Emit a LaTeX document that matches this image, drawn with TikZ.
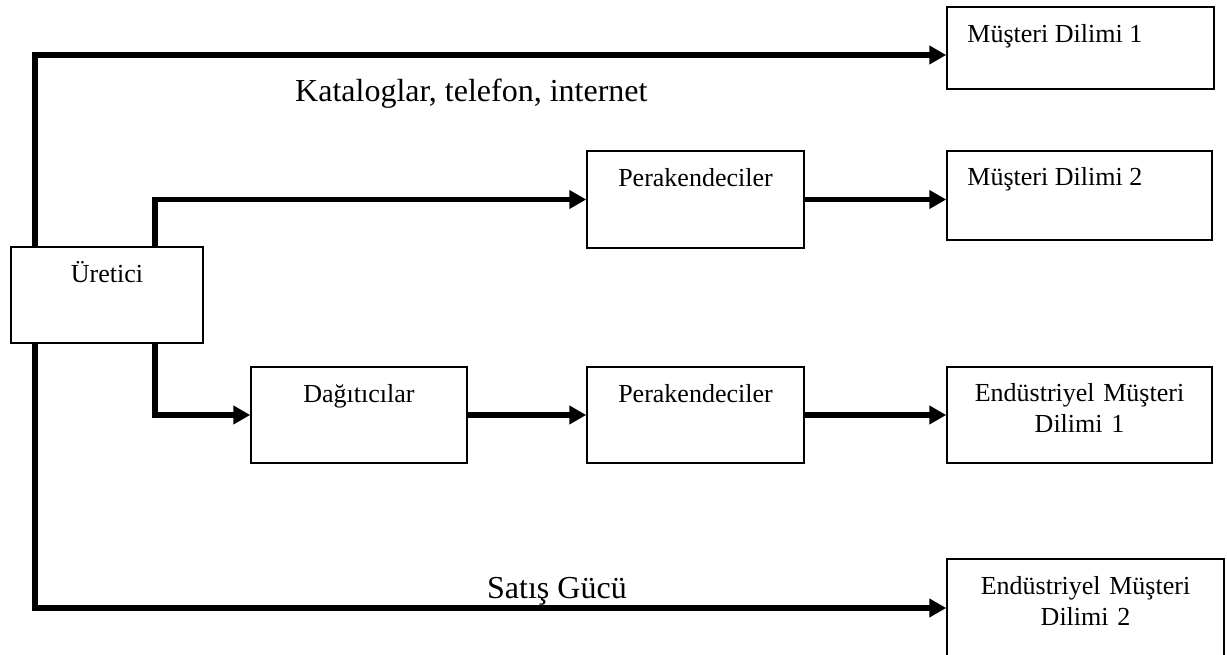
\documentclass[tikz,border=0pt]{standalone}
\usepackage{fontspec}
\setmainfont{Liberation Serif}
\usetikzlibrary{arrows.meta,calc}

\tikzset{
  box/.style={draw, line width=1.5pt, rectangle, inner sep=0pt},
  boxtext/.style={font=\fontsize{26}{31}\selectfont, inner sep=0pt, anchor=base},
  bigtext/.style={font=\fontsize{32}{38}\selectfont, inner sep=0pt, anchor=base west},
  flow/.style={line width=5.5pt, -{Triangle[length=17pt,width=18pt]}},
  trunk/.style={line width=5.5pt}
}

\begin{document}
\begin{tikzpicture}[x=1pt, y=-1pt]
  \useasboundingbox (0,0) rectangle (1227,655);

  % boxes
  \node[box, minimum width=192pt, minimum height=96pt] (ure) at (107,295) {};
  \node[box, minimum width=267pt, minimum height=82pt] (m1) at (1080.5,48) {};
  \node[box, minimum width=265pt, minimum height=89pt] (m2) at (1079.5,195.5) {};
  \node[box, minimum width=217pt, minimum height=97pt] (p1) at (695.5,199.5) {};
  \node[box, minimum width=217pt, minimum height=96pt] (p2) at (695.5,415) {};
  \node[box, minimum width=216pt, minimum height=96pt] (dag) at (359,415) {};
  \node[box, minimum width=265pt, minimum height=96pt] (e1) at (1079.5,415) {};
  \node[box, minimum width=277pt, minimum height=98pt] (e2) at (1085.5,608) {};

  % box captions, set near the top of each box
  \node[boxtext] (ture) at ($(ure.north)+(0,36)$) {Üretici};
  \node[boxtext, anchor=base west] (tm1) at ($(m1.north west)+(21,36)$) {Müşteri Dilimi 1};
  \node[boxtext, anchor=base west] (tm2) at ($(m2.north west)+(21,35)$) {Müşteri Dilimi 2};
  \node[boxtext] (tp1) at ($(p1.north)+(0,36)$) {Perakendeciler};
  \node[boxtext] (tp2) at ($(p2.north)+(0,36)$) {Perakendeciler};
  \node[boxtext] (tdag) at ($(dag.north)+(0,36)$) {Dağıtıcılar};
  \node[boxtext, text width=260pt, align=center] (te1) at ($(e1.north)+(0,35)$) {Endüstriyel Müşteri\\Dilimi 1};
  \node[boxtext, text width=270pt, align=center] (te2) at ($(e2.north)+(0,36)$) {Endüstriyel Müşteri\\Dilimi 2};

  % channel labels
  \node[bigtext] (lkat) at (295,102) {Kataloglar, telefon, internet};
  \node[bigtext] (lsat) at (487,598) {Satış Gücü};

  % routing helpers
  \coordinate (tx) at (35,0);
  \coordinate (t2) at (155,0);
  \coordinate (yk) at (0,55);

  % connectors
  \draw[flow] (ure.north -| tx) |- (m1.west |- yk);
  \draw[flow] (ure.north -| t2) |- (p1.west);
  \draw[flow] (p1.east) -- (p1.east -| m2.west);
  \draw[flow] (ure.south -| t2) |- (dag.west);
  \draw[flow] (dag.east) -- (p2.west);
  \draw[flow] (p2.east) -- (e1.west);
  \draw[flow] (ure.south -| tx) |- (e2.west);
\end{tikzpicture}
\end{document}
